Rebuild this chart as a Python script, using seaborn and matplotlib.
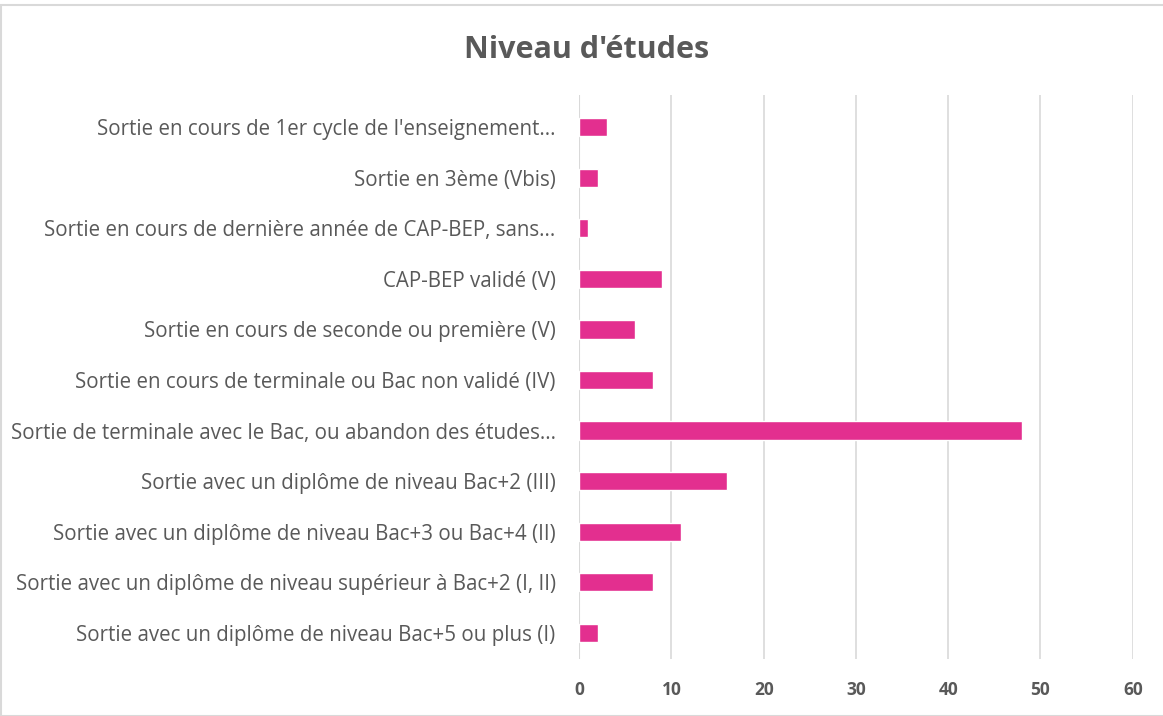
import pandas as pd
import matplotlib.pyplot as plt
import seaborn as sns
from matplotlib.patches import Rectangle

# data
categories = [
    "Sortie en cours de 1er cycle de l'enseignement...",
    "Sortie en 3ème (Vbis)",
    "Sortie en cours de dernière année de CAP-BEP, sans...",
    "CAP-BEP validé (V)",
    "Sortie en cours de seconde ou première (V)",
    "Sortie en cours de terminale ou Bac non validé (IV)",
    "Sortie de terminale avec le Bac, ou abandon des études...",
    "Sortie avec un diplôme de niveau Bac+2 (III)",
    "Sortie avec un diplôme de niveau Bac+3 ou Bac+4 (II)",
    "Sortie avec un diplôme de niveau supérieur à Bac+2 (I, II)",
    "Sortie avec un diplôme de niveau Bac+5 ou plus (I)",
]
values = [3, 2, 1, 9, 6, 8, 48, 16, 11, 8, 2]
x_ticks = [0, 10, 20, 30, 40, 50, 60]

df = pd.DataFrame({'niveau': categories, 'n': values})

sns.set_style('white')
plt.rcParams['font.family'] = ['Open Sans', 'DejaVu Sans']

fig = plt.figure(figsize=(11.63, 7.16), dpi=100)
ax = fig.add_axes([0.498, 0.080, 0.476, 0.787])

sns.barplot(data=df, x='n', y='niveau', orient='h', color='#E32F8F',
            width=0.36, saturation=1, ax=ax, zorder=3)

ax.set_xlim(0, 60)
ax.set_ylim(10.51, -0.63)
ax.set_xticks(x_ticks)
ax.set_xlabel('')
ax.set_ylabel('')
ax.grid(axis='x', color='#D9D9D9', linewidth=1.2, zorder=0)
ax.axvline(0, color='#D9D9D9', linewidth=1.5, zorder=1)
for s in ax.spines.values():
    s.set_visible(False)
ax.tick_params(axis='both', length=0)
ax.tick_params(axis='y', labelsize=14.8, labelcolor='#595959', pad=17)
ax.tick_params(axis='x', labelsize=12.5, labelcolor='#595959', pad=16)
for lbl in ax.get_xticklabels():
    lbl.set_fontweight('bold')

fig.text(0.504, 0.930, "Niveau d'études", ha='center', va='center',
         fontsize=22, fontweight='bold', color='#595959')

fig.patches.append(Rectangle((0.001, 0.0), 1.2, 0.993, transform=fig.transFigure,
                             fill=False, edgecolor='#D9D9D9', linewidth=1.5))

plt.savefig('out.png', dpi=100)
